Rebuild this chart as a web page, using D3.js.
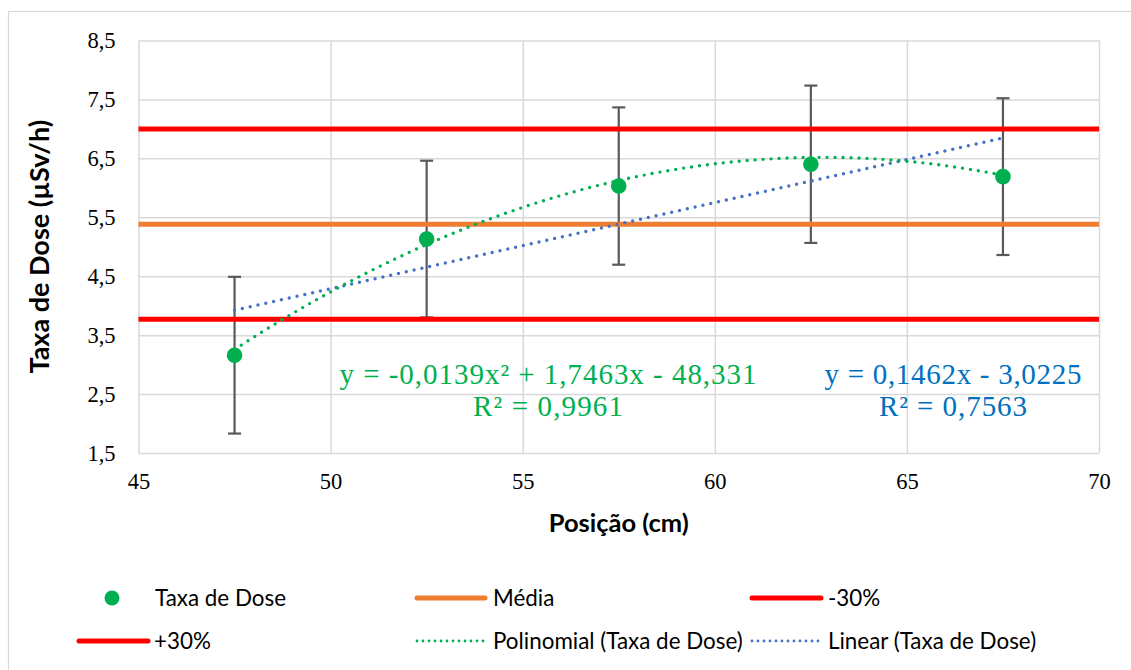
<!DOCTYPE html>
<html>
<head>
<meta charset="utf-8">
<script src="https://cdn.jsdelivr.net/npm/d3@7"></script>
<style>
  html, body { margin: 0; padding: 0; background: #ffffff; }
  svg { display: block; }
</style>
</head>
<body>
<svg id="chart" width="1131" height="670"></svg>
<script>
// Dose rate measured at each position (µSv/h) with its uncertainty
const positions = [47.5, 52.5, 57.5, 62.5, 67.5];
const doseRate = [3.16, 5.13, 6.03, 6.40, 6.19];
const doseError = [1.33, 1.33, 1.335, 1.335, 1.33];

// Reference levels: mean and ±30 % band
const lineSpan = [45, 70];
const meanLevel = 5.38;
const lowerLevel = 3.77;   // -30 %
const upperLevel = 7.00;   // +30 %

// Fitted trend lines (coefficients as printed on the chart)
const polyCoeffs = [-48.331, 1.7463, -0.0139];  // c0 + c1·x + c2·x²
const linCoeffs = [-3.0225, 0.1462];            // c0 + c1·x
const polyLabel = ["y = -0,0139x² + 1,7463x - 48,331", "R² = 0,9961"];
const linLabel = ["y = 0,1462x - 3,0225", "R² = 0,7563"];

// Axis ticks
const xTicks = [45, 50, 55, 60, 65, 70];
const yTicks = [1.5, 2.5, 3.5, 4.5, 5.5, 6.5, 7.5, 8.5];

const legendItems = [
  { label: "Taxa de Dose", kind: "point", color: "#00b050" },
  { label: "Média", kind: "line", color: "#ed7d31" },
  { label: "-30%", kind: "line", color: "#ff0000" },
  { label: "+30%", kind: "line", color: "#ff0000" },
  { label: "Polinomial (Taxa de Dose)", kind: "dots", color: "#00b050" },
  { label: "Linear (Taxa de Dose)", kind: "dots", color: "#4472c4" }
];

const svg = d3.select("#chart");
const W = 1131, H = 670;
const plot = { left: 138.5, right: 1099, top: 40.5, bottom: 453 };

const ptLocale = d3.formatLocale({ decimal: ",", thousands: ".", grouping: [3], currency: ["", ""] });
const fmt1 = ptLocale.format(".1f");

const x = d3.scaleLinear().domain([45, 70]).range([plot.left, plot.right]);
const y = d3.scaleLinear().domain([1.5, 8.5]).range([plot.bottom, plot.top]);

const gridColor = "#d9d9d9";
const serif = "'Liberation Serif', 'DejaVu Serif', serif";
const sans = "Lato, 'Open Sans', sans-serif";

// Chart frame
svg.append("rect")
  .attr("x", 8.5).attr("y", 11.5)
  .attr("width", W).attr("height", H)
  .attr("fill", "none").attr("stroke", gridColor).attr("stroke-width", 1.2);

// Gridlines + tick labels through d3 axes
const yAxis = svg.append("g")
  .attr("transform", `translate(${plot.left},0)`)
  .call(d3.axisLeft(y).tickValues(yTicks).tickFormat(fmt1)
    .tickSizeInner(-(plot.right - plot.left)).tickSizeOuter(0).tickPadding(23))
  .attr("font-family", serif).attr("font-size", 22.5);
yAxis.select(".domain").remove();
yAxis.selectAll(".tick line").attr("stroke", gridColor).attr("stroke-width", 1.5);
yAxis.selectAll(".tick text").attr("fill", "#000");

const xAxis = svg.append("g")
  .attr("transform", `translate(0,${plot.bottom})`)
  .call(d3.axisBottom(x).tickValues(xTicks).tickFormat(d3.format("d"))
    .tickSizeInner(-(plot.bottom - plot.top)).tickSizeOuter(0).tickPadding(20))
  .attr("font-family", serif).attr("font-size", 22.5);
xAxis.select(".domain").remove();
xAxis.selectAll(".tick line").attr("stroke", gridColor).attr("stroke-width", 1.5);
xAxis.selectAll(".tick text").attr("fill", "#000");

// Axis titles
svg.append("text")
  .attr("x", (plot.left + plot.right) / 2).attr("y", 532)
  .attr("text-anchor", "middle")
  .attr("font-family", sans).attr("font-weight", 700).attr("font-size", 25.5)
  .attr("fill", "#000")
  .text("Posição (cm)");

svg.append("text")
  .attr("transform", `translate(49,${(plot.top + plot.bottom) / 2}) rotate(-90)`)
  .attr("text-anchor", "middle")
  .attr("font-family", sans).attr("font-weight", 700).attr("font-size", 27)
  .attr("fill", "#000")
  .text("Taxa de Dose (µSv/h)");

// Error bars
const errG = svg.append("g").attr("stroke", "#595959").attr("stroke-width", 2.2);
positions.forEach((p, i) => {
  const lo = doseRate[i] - doseError[i], hi = doseRate[i] + doseError[i];
  errG.append("line").attr("x1", x(p)).attr("x2", x(p)).attr("y1", y(lo)).attr("y2", y(hi));
  [lo, hi].forEach(v => {
    errG.append("line").attr("x1", x(p) - 6.5).attr("x2", x(p) + 6.5)
      .attr("y1", y(v)).attr("y2", y(v));
  });
});

// Reference levels
const levelLine = d3.line().x(d => x(d[0])).y(d => y(d[1]));
[[meanLevel, "#ed7d31"], [lowerLevel, "#ff0000"], [upperLevel, "#ff0000"]].forEach(([v, c]) => {
  svg.append("path")
    .attr("d", levelLine(lineSpan.map(s => [s, v])))
    .attr("fill", "none").attr("stroke", c).attr("stroke-width", 5);
});

// Trend lines
const evalPoly = (c, t) => c.reduce((acc, k, i) => acc + k * Math.pow(t, i), 0);
const fitRange = [positions[0], positions[positions.length - 1]];
const fitSamples = d3.range(fitRange[0], fitRange[1] + 0.001, 0.1);
const dotted = { width: 3.4, dash: "0 8" };

svg.append("path")
  .attr("d", d3.line().x(t => x(t)).y(t => y(evalPoly(linCoeffs, t)))(fitRange))
  .attr("fill", "none").attr("stroke", "#4472c4")
  .attr("stroke-width", dotted.width).attr("stroke-linecap", "round")
  .attr("stroke-dasharray", dotted.dash);

svg.append("path")
  .attr("d", d3.line().x(t => x(t)).y(t => y(evalPoly(polyCoeffs, t)))(fitSamples))
  .attr("fill", "none").attr("stroke", "#00b050")
  .attr("stroke-width", dotted.width).attr("stroke-linecap", "round")
  .attr("stroke-dasharray", dotted.dash);

// Measured points
svg.append("g").selectAll("circle")
  .data(positions)
  .join("circle")
  .attr("cx", d => x(d))
  .attr("cy", (d, i) => y(doseRate[i]))
  .attr("r", 7.8)
  .attr("fill", "#00b050");

// Trend-line equations (each line fitted to its printed width)
function equation(lines, widths, cx, color) {
  const t = svg.append("text")
    .attr("text-anchor", "middle")
    .attr("font-family", serif).attr("font-size", 29).attr("fill", color);
  lines.forEach((s, i) => t.append("tspan")
    .attr("x", cx).attr("y", 384 + i * 32)
    .attr("textLength", widths[i]).attr("lengthAdjust", "spacing")
    .text(s));
}
equation(polyLabel, [417, 150], 548, "#00b050");
equation(linLabel, [257, 148], 953, "#0070c0");

// Legend
const legendSlots = [
  { row: 0, sx0: 112, tx: 155 },
  { row: 0, sx0: 417, sx1: 485, tx: 493 },
  { row: 0, sx0: 752, sx1: 821, tx: 828 },
  { row: 1, sx0: 79, sx1: 148, tx: 154 },
  { row: 1, sx0: 417, sx1: 485, tx: 493 },
  { row: 1, sx0: 752, sx1: 821, tx: 828 }
];
const rowY = [598, 641];
const legend = svg.append("g");
legendItems.forEach((item, i) => {
  const s = legendSlots[i];
  const cy = rowY[s.row];
  if (item.kind === "point") {
    legend.append("circle").attr("cx", s.sx0).attr("cy", cy).attr("r", 7.5).attr("fill", item.color);
  } else {
    const l = legend.append("line")
      .attr("x1", s.sx0).attr("x2", s.sx1).attr("y1", cy).attr("y2", cy)
      .attr("stroke", item.color);
    if (item.kind === "line") {
      l.attr("stroke-width", 5).attr("stroke-linecap", "round");
    } else {
      l.attr("stroke-width", 2.8).attr("stroke-linecap", "round").attr("stroke-dasharray", "0 6");
    }
  }
  legend.append("text")
    .attr("x", s.tx).attr("y", cy).attr("dy", "0.35em")
    .attr("font-family", sans).attr("font-size", 22.4).attr("fill", "#000")
    .text(item.label);
});
</script>
</body>
</html>
